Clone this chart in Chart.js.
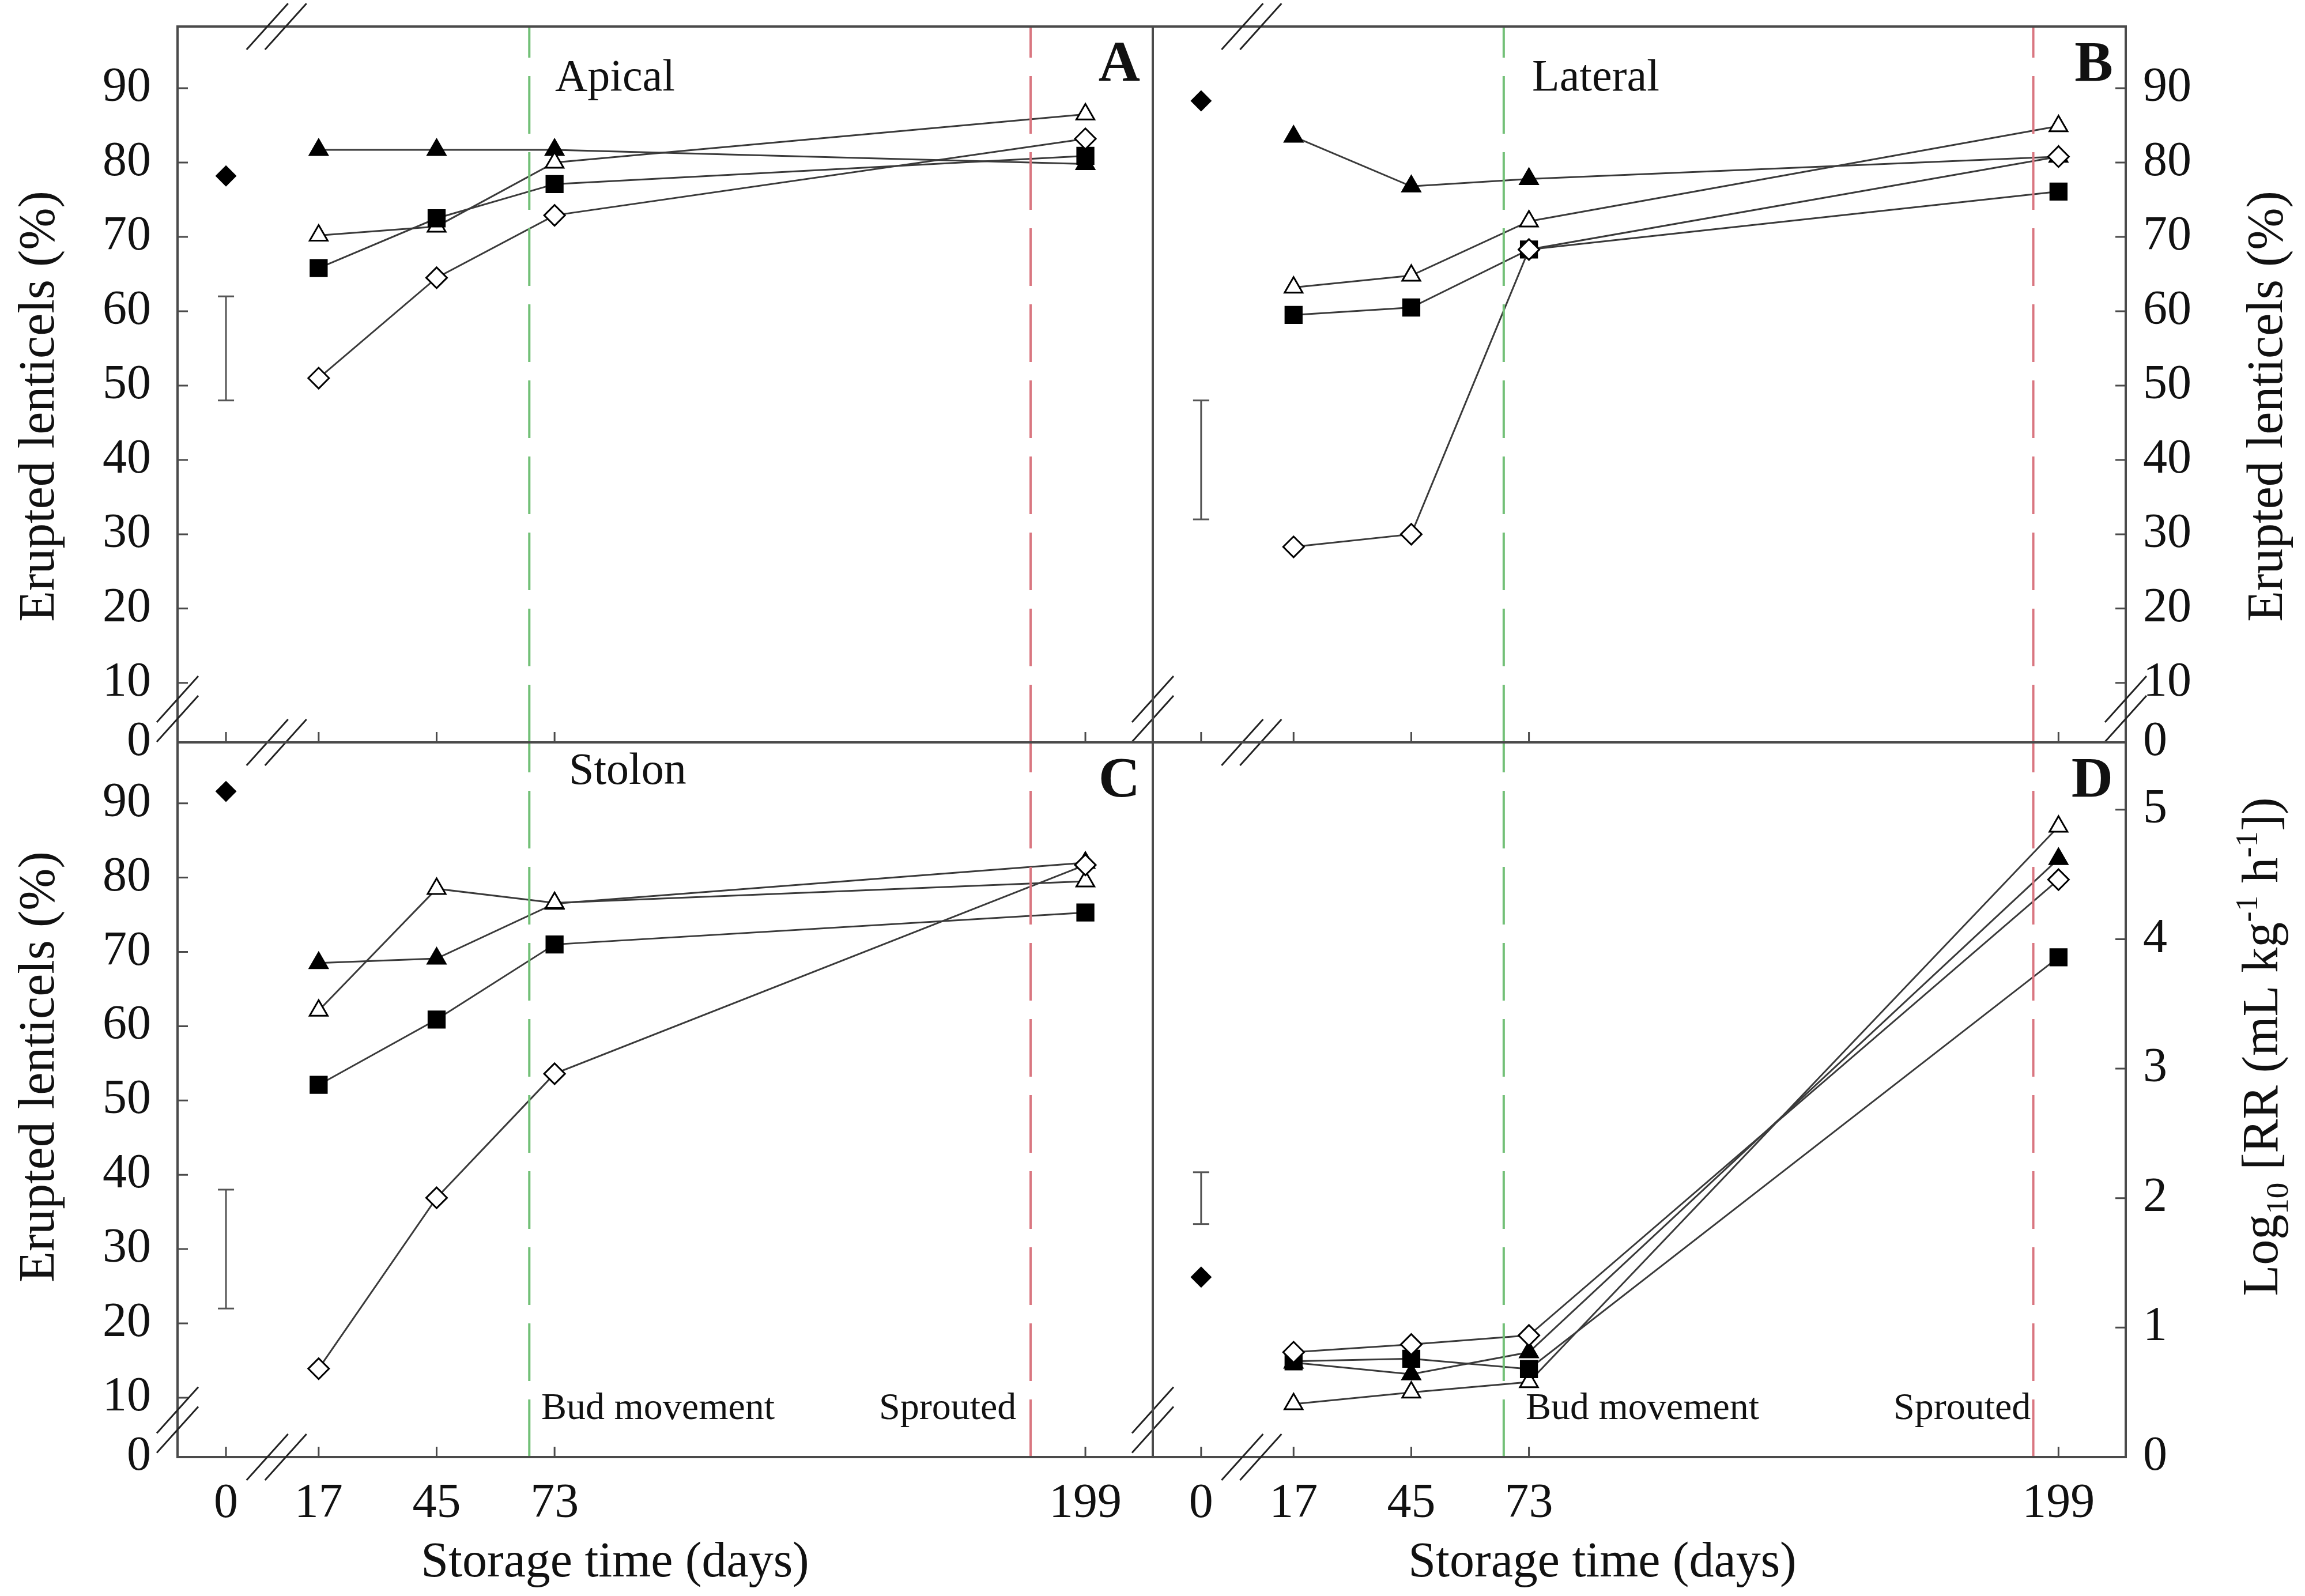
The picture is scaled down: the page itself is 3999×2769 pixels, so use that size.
<!DOCTYPE html>
<html>
<head>
<meta charset="utf-8">
<title>Erupted lenticels and respiration rate during storage</title>
<script src="https://cdn.jsdelivr.net/npm/chart.js@4.4.1/dist/chart.umd.min.js"></script>
<style>
  html, body { margin: 0; padding: 0; background: #fff; }
  #wrap { position: relative; width: 3999px; height: 2769px; }
  #wrap canvas { position: absolute; left: 0; top: 0; }
</style>
</head>
<body>
<div id="wrap">
  <canvas id="panelA" width="3999" height="2769"></canvas>
  <canvas id="panelB" width="3999" height="2769"></canvas>
  <canvas id="panelC" width="3999" height="2769"></canvas>
  <canvas id="panelD" width="3999" height="2769"></canvas>
</div>
<script>
// storage days sampled after the axis break
const storageDays = [17, 45, 73, 199];
// x ticks; day 0 is drawn left of the break
const xTickDays = [0, 17, 45, 73, 199];
const xTickLabels = ["0", "17", "45", "73", "199"];
const dayZeroPos = -5;
const xBreakAt = 7;

// y ticks (the bottom of each axis is labelled 0 after a break)
const pctTicks = [10, 20, 30, 40, 50, 60, 70, 80, 90];
const rrTicks = [1, 2, 3, 4, 5];

// event lines
const budMovementDay = 67;
const sproutedDayLeft = 186;
const sproutedDayRight = 193;

// A - Apical (% erupted lenticels)
const apicalFilledTri = [81.7, 81.7, 81.7, 79.8];
const apicalOpenTri = [70.2, 71.4, 80.0, 86.5];
const apicalFilledSq = [65.8, 72.5, 77.1, 80.9];
const apicalOpenDia = [51.0, 64.5, 72.9, 83.2];
const apicalDay0 = 78.2;
const apicalBar = [48, 62];

// B - Lateral
const lateralFilledTri = [83.5, 76.8, 77.8, 80.8];
const lateralOpenTri = [63.2, 64.8, 72.1, 84.9];
const lateralFilledSq = [59.5, 60.5, 68.3, 76.1];
const lateralOpenDia = [28.3, 30.0, 68.3, 80.8];
const lateralDay0 = 88.3;
const lateralBar = [32, 48];

// C - Stolon
const stolonFilledTri = [68.5, 69.1, 76.5, 82.0];
const stolonOpenTri = [62.1, 78.5, 76.6, 79.5];
const stolonFilledSq = [52.1, 60.9, 71.0, 75.3];
const stolonOpenDia = [13.9, 36.9, 53.6, 81.7];
const stolonDay0 = 91.6;
const stolonBar = [22, 38];

// D - log10 respiration rate
const rrFilledTri = [0.73, 0.64, 0.81, 4.62];
const rrOpenTri = [0.41, 0.50, 0.58, 4.87];
const rrFilledSq = [0.74, 0.76, 0.68, 3.86];
const rrOpenDia = [0.81, 0.87, 0.94, 4.46];
const rrDay0 = 1.39;
const rrBar = [1.80, 2.20];

const serif = "'Liberation Serif', 'Times New Roman', serif";
const axisColor = "#4a4a4a";
const lineColor = "#3a3a3a";
const greenDash = "#72c077";
const redDash = "#d97680";

// plot areas on the page
const leftX = 308, midX = 2000, rightX = 3688;
const topY = 46, midY = 1288, bottomY = 2528;
const xMin = -16.5, xMax = 215;
const yAxisBox = 240, xAxisBox = 160;

const xPos = d => (d === 0 ? dayZeroPos : d);

// per-panel decoration, looked up by canvas id
const decor = {};

const panelDecor = {
  id: "panelDecor",
  afterDatasetsDraw(chart) {
    const o = decor[chart.canvas.id];
    const { ctx, chartArea: a } = chart;
    const x = chart.scales.x, y = chart.scales.y;
    ctx.save();

    // frame
    ctx.strokeStyle = axisColor;
    ctx.lineWidth = 4;
    ctx.strokeRect(a.left, a.top, a.width, a.height);

    // inward tick marks
    ctx.lineWidth = 3;
    ctx.beginPath();
    x.ticks.forEach(t => {
      const px = x.getPixelForValue(t.value);
      ctx.moveTo(px, a.bottom);
      ctx.lineTo(px, a.bottom - 18);
    });
    const yx = o.side === "left" ? a.left : a.right;
    const dir = o.side === "left" ? 1 : -1;
    y.ticks.forEach(t => {
      if (t.value === y.min) return;
      const py = y.getPixelForValue(t.value);
      ctx.moveTo(yx, py);
      ctx.lineTo(yx + dir * 18, py);
    });
    ctx.stroke();

    // axis breaks  //
    ctx.strokeStyle = "#222";
    ctx.lineWidth = 3;
    const slash = (cx, cy) => {
      ctx.moveTo(cx - 36, cy + 40);
      ctx.lineTo(cx + 36, cy - 40);
    };
    ctx.beginPath();
    const bx = x.getPixelForValue(xBreakAt);
    o.xBreaks.forEach(edge => {
      const cy = edge === "top" ? a.top : a.bottom;
      slash(bx - 16, cy);
      slash(bx + 16, cy);
    });
    if (o.yBreakAt !== null) {
      const by = y.getPixelForValue(o.yBreakAt);
      o.yBreaks.forEach(edge => {
        const cx = edge === "left" ? a.left : a.right;
        slash(cx, by - 17);
        slash(cx, by + 17);
      });
    }
    ctx.stroke();

    // texts
    ctx.fillStyle = "#111";
    ctx.textBaseline = "middle";
    ctx.textAlign = "left";
    ctx.font = "78px " + serif;
    ctx.fillText(o.name, a.left + o.nameX, a.top + o.nameY);
    if (o.events) {
      ctx.font = "66px " + serif;
      ctx.fillText("Bud movement", a.left + o.events[0], a.bottom - 83);
      ctx.fillText("Sprouted", a.left + o.events[1], a.bottom - 83);
    }
    ctx.textAlign = "right";
    ctx.font = "bold 100px " + serif;
    ctx.fillText(o.letter, a.right - 22, a.top + 68);

    if (o.xTitle) {
      ctx.textAlign = "center";
      ctx.font = "86px " + serif;
      ctx.fillText("Storage time (days)", a.left + o.xTitle, a.bottom + 184);
    }

    // rotated y titles, built from pieces so sub/superscripts stay text
    const fs = 88;
    const pieces = o.yTitle;
    ctx.save();
    ctx.translate(o.yTitleX, a.top + o.yTitleY);
    ctx.rotate(-Math.PI / 2);
    ctx.textAlign = "left";
    ctx.textBaseline = "alphabetic";
    let total = 0;
    pieces.forEach(p => {
      ctx.font = Math.round(fs * p.s) + "px " + serif;
      p.w = ctx.measureText(p.t).width;
      total += p.w;
    });
    let cur = -total / 2;
    pieces.forEach(p => {
      ctx.font = Math.round(fs * p.s) + "px " + serif;
      ctx.fillText(p.t, cur, fs * 0.33 + fs * p.dy);
      cur += p.w;
    });
    ctx.restore();

    ctx.restore();
  }
};

const eruptedTitle = [{ t: "Erupted lenticels (%)", s: 1, dy: 0 }];
const rrTitle = [
  { t: "Log", s: 1, dy: 0 },
  { t: "10", s: 0.62, dy: 0.2 },
  { t: " [RR (mL kg", s: 1, dy: 0 },
  { t: "-1", s: 0.62, dy: -0.4 },
  { t: " h", s: 1, dy: 0 },
  { t: "-1", s: 0.62, dy: -0.4 },
  { t: "])", s: 1, dy: 0 }
];

// nudge layout padding until the plot area sits on the wanted rectangle
function pinArea(chart, box) {
  for (let k = 0; k < 4; k++) {
    const a = chart.chartArea;
    const pad = chart.options.layout.padding;
    pad.left = Math.max(0, pad.left + box.left - a.left);
    pad.top = Math.max(0, pad.top + box.top - a.top);
    pad.right = Math.max(0, pad.right + a.right - box.right);
    pad.bottom = Math.max(0, pad.bottom + a.bottom - box.bottom);
    chart.update();
  }
}

function buildPanel(id, p) {
  const pts = vals => storageDays.map((d, i) => ({ x: d, y: vals[i] }));
  const series = (vals, style, filled, radius) => ({
    data: pts(vals),
    borderColor: lineColor,
    borderWidth: 3,
    pointStyle: style,
    pointRadius: radius,
    pointHoverRadius: radius,
    pointBackgroundColor: filled ? "#000" : "#fff",
    pointBorderColor: "#000",
    pointBorderWidth: 3
  });
  const vline = (day, color) => ({
    data: [{ x: day, y: p.yMin }, { x: day, y: p.yMax }],
    borderColor: color,
    borderWidth: 4,
    borderDash: [100, 32],
    pointRadius: 0
  });

  decor[id] = p.decor;
  const side = p.decor.side;
  const box = p.box;
  const W = 3999, H = 2769;
  const pad = {
    left: side === "left" ? box.left - yAxisBox : box.left,
    right: side === "right" ? W - box.right - yAxisBox : W - box.right,
    top: box.top,
    bottom: p.showX ? H - box.bottom - xAxisBox : H - box.bottom
  };

  const chart = new Chart(document.getElementById(id), {
    type: "line",
    data: {
      datasets: [
        vline(budMovementDay, greenDash),
        vline(p.sprouted, redDash),
        {
          data: [{ x: dayZeroPos, y: p.bar[0] }, { x: dayZeroPos, y: p.bar[1] }],
          borderColor: "#555",
          borderWidth: 3,
          pointStyle: "line",
          pointRadius: 14,
          pointBorderColor: "#555",
          pointBorderWidth: 3
        },
        {
          data: [{ x: dayZeroPos, y: p.day0 }],
          showLine: false,
          pointStyle: "rectRot",
          pointRadius: 17,
          pointBackgroundColor: "#000",
          pointBorderColor: "#000",
          pointBorderWidth: 2
        },
        series(p.openDia, "rectRot", false, 18),
        series(p.filledSq, "rect", true, 20),
        series(p.openTri, "triangle", false, 18),
        series(p.filledTri, "triangle", true, 18)
      ]
    },
    options: {
      responsive: false,
      animation: false,
      devicePixelRatio: 1,
      layout: { padding: pad },
      plugins: { legend: { display: false }, tooltip: { enabled: false } },
      scales: {
        x: {
          type: "linear",
          min: xMin,
          max: xMax,
          afterBuildTicks: ax => { ax.ticks = xTickDays.map(d => ({ value: xPos(d) })); },
          afterFit: ax => { ax.height = p.showX ? xAxisBox : 0; },
          // tick marks are drawn by the plugin; tickLength only spaces the labels
          grid: { display: false, drawTicks: true, tickLength: 40 },
          border: { display: false },
          ticks: {
            display: p.showX,
            autoSkip: false,
            maxRotation: 0,
            minRotation: 0,
            padding: 0,
            color: "#111",
            font: { family: serif, size: 84, lineHeight: 1 },
            callback: v => xTickLabels[xTickDays.map(xPos).indexOf(v)]
          }
        },
        y: {
          type: "linear",
          position: side,
          min: p.yMin,
          max: p.yMax,
          afterBuildTicks: ax => { ax.ticks = [p.yMin].concat(p.yTicks).map(v => ({ value: v })); },
          afterFit: ax => { ax.width = yAxisBox; },
          grid: { display: false, drawTicks: true, tickLength: side === "left" ? 46 : 30 },
          border: { display: false },
          ticks: {
            autoSkip: false,
            padding: 0,
            color: "#111",
            font: { family: serif, size: 84, lineHeight: 1 },
            callback: v => (v === p.yMin ? "0" : String(v))
          }
        }
      }
    },
    plugins: [panelDecor]
  });
  pinArea(chart, box);
  return chart;
}

buildPanel("panelA", {
  box: { left: leftX, right: midX, top: topY, bottom: midY },
  yMin: 2, yMax: 98.3, yTicks: pctTicks, showX: false, sprouted: sproutedDayLeft,
  filledTri: apicalFilledTri, openTri: apicalOpenTri, filledSq: apicalFilledSq, openDia: apicalOpenDia,
  day0: apicalDay0, bar: apicalBar,
  decor: { side: "left", name: "Apical", nameX: 655, nameY: 91, letter: "A",
    xBreaks: ["top", "bottom"], yBreakAt: 6.5, yBreaks: ["left", "right"],
    yTitle: eruptedTitle, yTitleX: 64, yTitleY: 659 }
});

buildPanel("panelB", {
  box: { left: midX, right: rightX, top: topY, bottom: midY },
  yMin: 2, yMax: 98.3, yTicks: pctTicks, showX: false, sprouted: sproutedDayRight,
  filledTri: lateralFilledTri, openTri: lateralOpenTri, filledSq: lateralFilledSq, openDia: lateralOpenDia,
  day0: lateralDay0, bar: lateralBar,
  decor: { side: "right", name: "Lateral", nameX: 658, nameY: 91, letter: "B",
    xBreaks: ["top", "bottom"], yBreakAt: 6.5, yBreaks: ["right"],
    yTitle: eruptedTitle, yTitleX: 3930, yTitleY: 659 }
});

buildPanel("panelC", {
  box: { left: leftX, right: midX, top: midY, bottom: bottomY },
  yMin: 2, yMax: 98.2, yTicks: pctTicks, showX: true, sprouted: sproutedDayLeft,
  filledTri: stolonFilledTri, openTri: stolonOpenTri, filledSq: stolonFilledSq, openDia: stolonOpenDia,
  day0: stolonDay0, bar: stolonBar,
  decor: { side: "left", name: "Stolon", nameX: 679, nameY: 52, letter: "C",
    events: [631, 1217], xTitle: 759,
    xBreaks: ["bottom"], yBreakAt: 7, yBreaks: ["left", "right"],
    yTitle: eruptedTitle, yTitleX: 64, yTitleY: 563 }
});

buildPanel("panelD", {
  box: { left: midX, right: rightX, top: midY, bottom: bottomY },
  yMin: 0, yMax: 5.52, yTicks: rrTicks, showX: true, sprouted: sproutedDayRight,
  filledTri: rrFilledTri, openTri: rrOpenTri, filledSq: rrFilledSq, openDia: rrOpenDia,
  day0: rrDay0, bar: rrBar,
  decor: { side: "right", name: "", nameX: 0, nameY: 0, letter: "D",
    events: [647, 1285], xTitle: 780,
    xBreaks: ["bottom"], yBreakAt: null, yBreaks: [],
    yTitle: rrTitle, yTitleX: 3922, yTitleY: 528 }
});
</script>
</body>
</html>
